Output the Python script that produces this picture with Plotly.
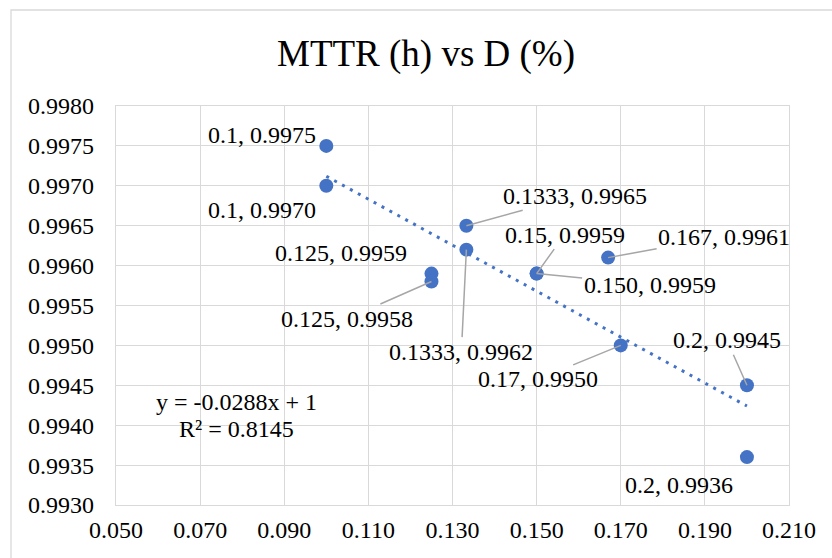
import plotly.graph_objects as go

# Data points as written in their labels (x = MTTR in h, y = availability D)
x_text = ["0.1", "0.1", "0.125", "0.125", "0.1333", "0.1333",
          "0.15", "0.150", "0.167", "0.17", "0.2", "0.2"]
y_text = ["0.9975", "0.9970", "0.9959", "0.9958", "0.9965", "0.9962",
          "0.9959", "0.9959", "0.9961", "0.9950", "0.9945", "0.9936"]
x_vals = [float(s) for s in x_text]
y_vals = [float(s) for s in y_text]
point_labels = [f"{a}, {b}" for a, b in zip(x_text, y_text)]

# Linear trendline fitted to the points
trend_slope = -0.0288
trend_intercept = 1.0
trend_r2 = 0.8145
trend_x = [min(x_vals), max(x_vals)]
trend_y = [trend_slope * v + trend_intercept for v in trend_x]

title_text = "MTTR (h) vs D (%)"
x_ticks = [0.05, 0.07, 0.09, 0.11, 0.13, 0.15, 0.17, 0.19, 0.21]
y_ticks = [0.9930, 0.9935, 0.9940, 0.9945, 0.9950, 0.9955,
           0.9960, 0.9965, 0.9970, 0.9975, 0.9980]

# ---- layout / styling ----
W, H = 832, 558
PL, PR, PT, PB = 116, 789, 106, 505  # plot area in pixels
FONT = "Liberation Serif"
BLUE = "#4472C4"
GRID = "#d9d9d9"
LEADER = "#a6a6a6"


def paper_x(px):
    return (px - PL) / (PR - PL)


def paper_y(py):
    return (PB - py) / (PB - PT)


# label placement: (dx, dy) pixel offset of label centre from the point,
# and whether a leader line is drawn
label_offsets = [
    (-64, -11, False),
    (-64, 24, False),
    (-90, -21, False),
    (-84, 37, True),
    (109, -30, True),
    (-5, 102, True),
    (28, -39, True),
    (113, 11, True),
    (116, -21, True),
    (-83, 34, True),
    (-20, -45, True),
    (-68, 28, False),
]

label_font = dict(family=FONT, size=24, color="#000000")

fig = go.Figure()

fig.add_trace(go.Scatter(
    x=trend_x, y=trend_y, mode="lines",
    line=dict(color=BLUE, width=3, dash="3px,6px"),
    hoverinfo="skip", showlegend=False,
))

fig.add_trace(go.Scatter(
    x=x_vals, y=y_vals, mode="markers",
    marker=dict(color=BLUE, size=14, line=dict(width=0)),
    showlegend=False,
))

annotations = []
for xv, yv, lab, (dx, dy, leader) in zip(x_vals, y_vals, point_labels, label_offsets):
    if leader:
        annotations.append(dict(
            x=xv, y=yv, xref="x", yref="y", text=lab,
            showarrow=True, arrowhead=0, arrowwidth=1.5, arrowcolor=LEADER,
            ax=dx, ay=dy, standoff=0, font=label_font,
        ))
    else:
        annotations.append(dict(
            x=xv, y=yv, xref="x", yref="y", text=lab,
            showarrow=False, xshift=dx, yshift=-dy, font=label_font,
        ))

# trendline equation and R²
eq_lines = [f"y = {trend_slope}x + {trend_intercept:g}", f"R² = {trend_r2}"]
for line, py in zip(eq_lines, [402, 429]):
    annotations.append(dict(
        x=paper_x(236), y=paper_y(py), xref="paper", yref="paper",
        text=line, showarrow=False, xanchor="center", yanchor="middle",
        font=label_font,
    ))

fig.update_layout(
    width=W, height=H, autosize=False,
    margin=dict(l=PL, r=W - PR, t=PT, b=H - PB, pad=0, autoexpand=False),
    paper_bgcolor="white", plot_bgcolor="white",
    font=dict(family=FONT, color="#000000"),
    title=dict(
        text=title_text, font=dict(family=FONT, size=37, color="#000000"),
        xref="paper", x=paper_x(426), xanchor="center",
        yref="container", y=1 - 53 / H, yanchor="middle",
    ),
    annotations=annotations,
    shapes=[dict(
        type="rect", xref="paper", yref="paper",
        x0=paper_x(11), x1=paper_x(W + 20), y0=paper_y(H + 20), y1=paper_y(10),
        line=dict(color=GRID, width=1.3), fillcolor="rgba(0,0,0,0)", layer="below",
    )],
)

fig.update_xaxes(
    range=[0.05, 0.21], tickvals=x_ticks, tickformat=".3f",
    showgrid=True, gridcolor=GRID, gridwidth=1.3,
    showline=True, linecolor=GRID, linewidth=1.3, mirror=True,
    zeroline=False, ticks="", ticklabelstandoff=3, automargin=False,
    tickfont=label_font,
)
fig.update_yaxes(
    range=[0.993, 0.998], tickvals=y_ticks, tickformat=".4f",
    showgrid=True, gridcolor=GRID, gridwidth=1.3,
    showline=True, linecolor=GRID, linewidth=1.3, mirror=True,
    zeroline=False, ticks="", ticklabelstandoff=16, automargin=False,
    tickfont=label_font,
)

fig.write_html("out.html")
